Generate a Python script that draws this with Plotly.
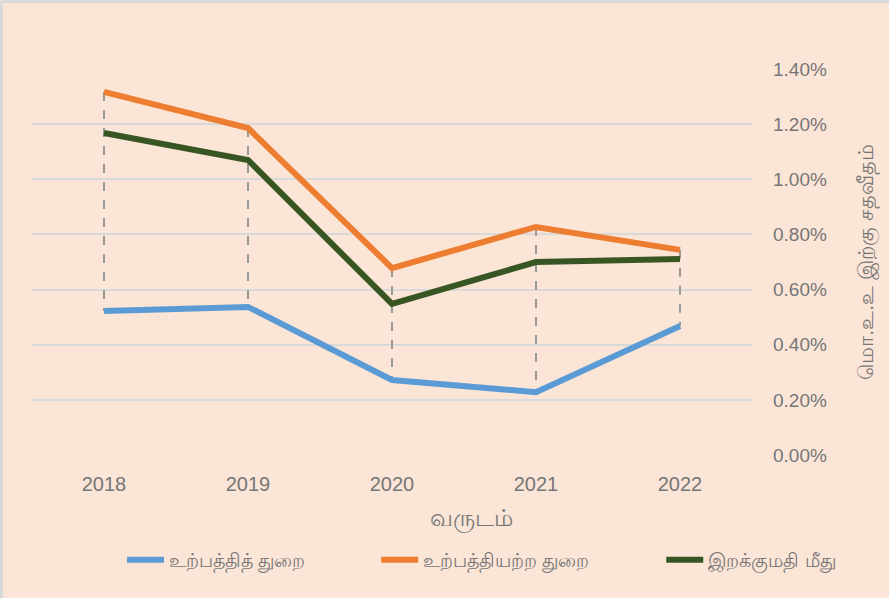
import plotly.graph_objects as go

years = ["2018", "2019", "2020", "2021", "2022"]
production = [0.522, 0.537, 0.272, 0.228, 0.468]
non_production = [1.317, 1.186, 0.678, 0.827, 0.744]
imports = [1.168, 1.070, 0.548, 0.700, 0.711]

names = ["உற்பத்தித் துறை", "உற்பத்தியற்ற துறை", "இறக்குமதி மீது"]
colors = ["#5B9BD5", "#ED7D31", "#375623"]
series = [production, non_production, imports]

y_ticks = [0.0, 0.2, 0.4, 0.6, 0.8, 1.0, 1.2, 1.4]
y_tick_text = ["0.00%", "0.20%", "0.40%", "0.60%", "0.80%", "1.00%", "1.20%", "1.40%"]

x_title = "வருடம்"
y_title = "மொ.உ.உ இற்கு சதவீதம்"

BG = "#FBE5D6"
TXT = "#767676"
FONT = "Liberation Sans, Noto Sans, sans-serif"

W, H = 889, 598
ML, MR, MT, MB = 32, 137, 69, 143
PW, PH = W - ML - MR, H - MT - MB

fig = go.Figure()

# high-low drop lines
hx, hy = [], []
for i, yr in enumerate(years):
    vals = [s[i] for s in series]
    hx += [yr, yr, None]
    hy += [max(vals), min(vals), None]
fig.add_trace(go.Scatter(x=hx, y=hy, mode="lines", showlegend=False, hoverinfo="skip",
                         line=dict(color="#999999", width=2, dash="dash")))

legend_ids = ["legend", "legend2", "legend3"]
for n, c, s, lg in zip(names, colors, series, legend_ids):
    fig.add_trace(go.Scatter(x=years, y=s, mode="lines", name=n, legend=lg,
                             line=dict(color=c, width=6)))

# chart-area border (left and top edges)
bx = (1.5 - ML) / PW
by = (H - MB - 1.5) / PH
fig.add_shape(type="line", xref="paper", yref="paper", x0=bx, x1=bx, y0=-MB / PH, y1=by,
              line=dict(color="#D9D9D9", width=3))
fig.add_shape(type="line", xref="paper", yref="paper", x0=bx, x1=(W - ML) / PW, y0=by, y1=by,
              line=dict(color="#D9D9D9", width=3))

def leg(xpos):
    return dict(orientation="h", x=xpos, xanchor="left", y=-0.272, yanchor="middle",
                font=dict(size=19, color=TXT), bgcolor="rgba(0,0,0,0)", itemwidth=37)

fig.update_layout(
    width=W, height=H,
    paper_bgcolor=BG, plot_bgcolor=BG,
    margin=dict(l=ML, r=MR, t=MT, b=MB),
    font=dict(family=FONT, color=TXT, size=18),
    showlegend=True,
    legend=leg(0.125), legend2=leg(0.478), legend3=leg(0.874),
    xaxis=dict(type="category", range=[-0.5, 4.5], showgrid=False, zeroline=False,
               showline=False, ticks="", tickfont=dict(size=20, color=TXT),
               ticklabelstandoff=15),
    yaxis=dict(side="right", range=[0, 1.4], tickvals=y_ticks, ticktext=y_tick_text,
               showgrid=True, gridcolor="#D9D9D9", gridwidth=1.5, zeroline=False,
               showline=False, ticks="", tickfont=dict(size=19, color=TXT),
               ticklabelstandoff=20,
               title=dict(text=y_title, font=dict(size=21, color=TXT), standoff=32)),
    annotations=[dict(text=x_title, xref="paper", yref="paper", x=0.61, y=-0.165,
                      xanchor="center", yanchor="middle", showarrow=False,
                      font=dict(size=24, color=TXT))],
)

fig.write_html("out.html", config={"displayModeBar": False},
               post_script="document.body.style.margin='0';")
